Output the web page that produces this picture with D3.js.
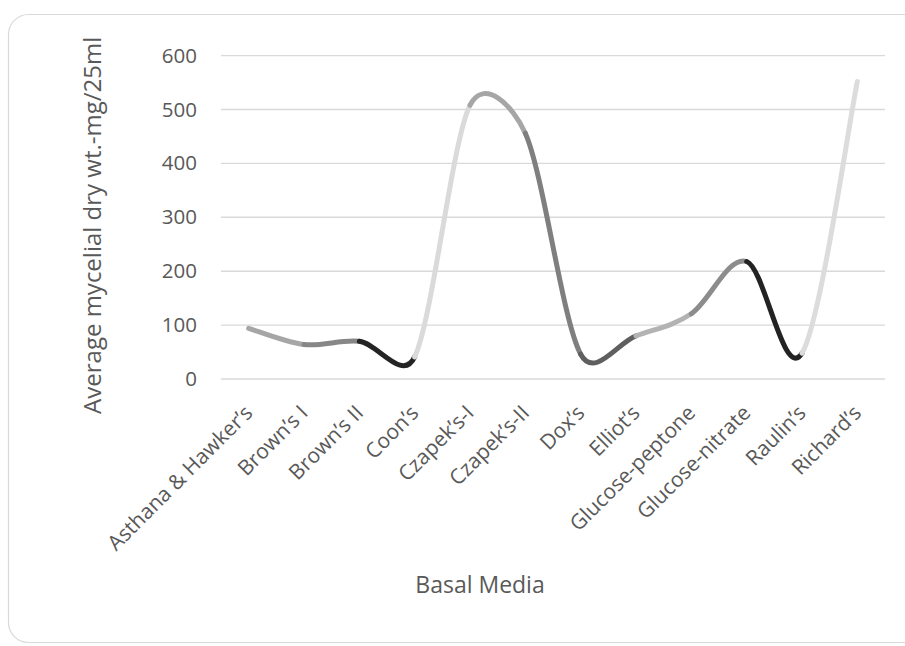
<!DOCTYPE html>
<html>
<head>
<meta charset="utf-8">
<script src="https://cdn.jsdelivr.net/npm/d3@7"></script>
<style>
  html, body { margin: 0; padding: 0; background: #fff; }
  svg { display: block; font-family: "Open Sans", sans-serif; }
</style>
</head>
<body>
<svg id="chart" width="905" height="646"></svg>
<script>
// Basal media tested and the mean mycelial dry weight on each (mg / 25 ml)
const media = [
  "Asthana & Hawker\u2019s", "Brown\u2019s I", "Brown\u2019s II", "Coon\u2019s",
  "Czapek\u2019s-I", "Czapek\u2019s-II", "Dox\u2019s", "Elliot\u2019s",
  "Glucose-peptone", "Glucose-nitrate", "Raulin\u2019s", "Richard\u2019s"
];
const dryWeight = [94, 64, 70, 41, 508, 456, 46, 80, 121, 218, 48, 552];
const yTicks = [0, 100, 200, 300, 400, 500, 600];
// one shade per connecting segment (varied by point)
const segmentShades = [
  "#a6a6a6", "#878787", "#242424", "#dadada", "#a6a6a6", "#7f7f7f",
  "#5f5f5f", "#b3b3b3", "#8c8c8c", "#232323", "#dcdcdc"
];

const svg = d3.select("#chart");
const plot = { left: 221, right: 885, top: 55.6, bottom: 379 };

// outer frame
svg.append("rect")
  .attr("x", 8.5).attr("y", 14.5)
  .attr("width", 940).attr("height", 628)
  .attr("rx", 20).attr("ry", 20)
  .attr("fill", "#fff").attr("stroke", "#d9d9d9").attr("stroke-width", 1.2);

const x = d3.scaleBand().domain(media).range([plot.left, plot.right]).padding(0);
const y = d3.scaleLinear().domain([0, 600]).range([plot.bottom, plot.top]);
const cx = d => x(d) + x.bandwidth() / 2;

// horizontal gridlines
svg.append("g")
  .selectAll("line").data(yTicks).join("line")
  .attr("x1", plot.left).attr("x2", plot.right)
  .attr("y1", d => y(d)).attr("y2", d => y(d))
  .attr("stroke", "#d9d9d9").attr("stroke-width", 1.4);

// y axis tick labels
const yAxis = d3.axisLeft(y).tickValues(yTicks).tickSize(0).tickPadding(0);
const gy = svg.append("g").attr("transform", `translate(${plot.left - 24},0)`).call(yAxis);
gy.select(".domain").remove();
gy.selectAll("text")
  .attr("fill", "#595959").attr("font-size", 20.5)
  .attr("font-family", "'Open Sans', sans-serif");

// x axis category labels, rotated
const xAxis = d3.axisBottom(x).tickSize(0).tickPadding(0);
const gx = svg.append("g").attr("transform", `translate(0,${plot.bottom})`).call(xAxis);
gx.select(".domain").remove();
gx.selectAll(".tick text")
  .attr("fill", "#595959").attr("font-size", 21)
  .attr("font-family", "'Open Sans', sans-serif")
  .attr("text-anchor", "end")
  .attr("y", 0).attr("dy", "0.35em")
  .attr("transform", "translate(0,30) rotate(-45)");

// smoothed line, built segment by segment so each link gets its own shade
const pts = media.map((m, i) => [cx(m), y(dryWeight[i])]);
const dist = (a, b) => Math.hypot(b[0] - a[0], b[1] - a[1]);
function segmentPath(i) {
  const p1 = pts[i], p2 = pts[i + 1];
  const p0 = pts[i - 1] || p1, p3 = pts[i + 2] || p2;
  const d12 = dist(p1, p2);
  let v1 = [(p2[0] - p0[0]) / 6, (p2[1] - p0[1]) / 6];
  let v2 = [(p3[0] - p1[0]) / 6, (p3[1] - p1[1]) / 6];
  const clamp = v => {
    const L = Math.hypot(v[0], v[1]);
    return L > d12 / 2 ? [v[0] * d12 / 2 / L, v[1] * d12 / 2 / L] : v;
  };
  v1 = clamp(v1); v2 = clamp(v2);
  const p = d3.path();
  p.moveTo(p1[0], p1[1]);
  p.bezierCurveTo(p1[0] + v1[0], p1[1] + v1[1], p2[0] - v2[0], p2[1] - v2[1], p2[0], p2[1]);
  return p.toString();
}
svg.append("g")
  .selectAll("path").data(d3.range(pts.length - 1)).join("path")
  .attr("d", i => segmentPath(i))
  .attr("fill", "none")
  .attr("stroke", i => segmentShades[i])
  .attr("stroke-width", 5)
  .attr("stroke-linecap", "round");

// axis titles
svg.append("text")
  .attr("transform", `translate(101,${(plot.top + plot.bottom) / 2 + 8}) rotate(-90)`)
  .attr("text-anchor", "middle")
  .attr("fill", "#595959").attr("font-size", 24)
  .text("Average mycelial dry wt.-mg/25ml");

svg.append("text")
  .attr("x", 480).attr("y", 593)
  .attr("text-anchor", "middle")
  .attr("fill", "#595959").attr("font-size", 23)
  .text("Basal Media");
</script>
</body>
</html>
